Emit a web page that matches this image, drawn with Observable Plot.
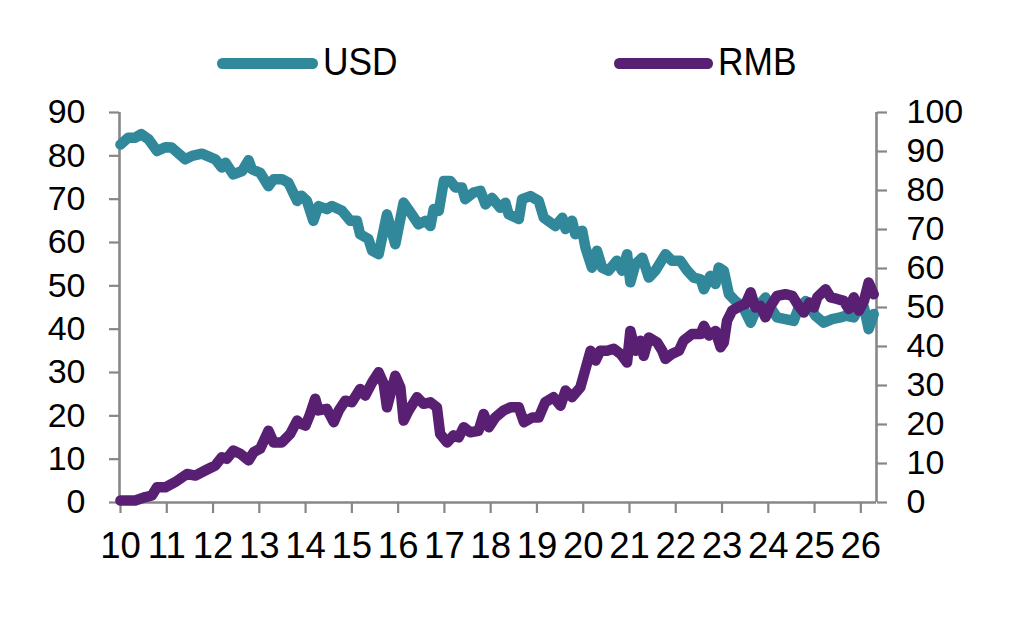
<!DOCTYPE html>
<html>
<head>
<meta charset="utf-8">
<script src="https://cdn.jsdelivr.net/npm/d3@7"></script>
<script src="https://cdn.jsdelivr.net/npm/@observablehq/plot@0.6"></script>
<style>
  html, body { margin: 0; padding: 0; background: #fff; }
  body { width: 1028px; height: 618px; overflow: hidden; font-family: "Liberation Sans", Arial, sans-serif; }
  #legend { position: relative; height: 90px; }
  .swatch { position: absolute; top: 58px; height: 10.5px; border-radius: 5.25px; }
  .lab { position: absolute; top: 40px; font-size: 38px; line-height: 44px; color: #000;
         transform: scaleX(0.93); transform-origin: 0 50%; white-space: nowrap; }
</style>
</head>
<body>
<div id="legend"></div>
<div id="chart"></div>
<script>
// ---- data ----
const seriesNames = ["USD", "RMB"];
const seriesColors = ["#32889b", "#581f73"];

const usdYears = [10.02,10.19,10.34,10.47,10.63,10.81,10.99,11.13,11.42,11.57,11.78,12.07,12.21,12.29,12.46,12.65,12.79,12.86,13.04,13.22,13.33,13.51,13.65,13.84,13.93,14.05,14.19,14.30,14.48,14.59,14.81,14.99,15.13,15.20,15.38,15.46,15.60,15.78,15.96,16.14,16.29,16.46,16.61,16.72,16.79,16.90,17.01,17.15,17.26,17.40,17.47,17.65,17.80,17.91,18.05,18.23,18.34,18.41,18.63,18.70,18.88,19.06,19.17,19.42,19.57,19.64,19.78,19.85,20.00,20.07,20.21,20.32,20.43,20.57,20.75,20.86,20.97,21.04,21.15,21.30,21.44,21.58,21.80,21.94,22.12,22.27,22.41,22.56,22.63,22.77,22.88,22.95,23.06,23.17,23.31,23.46,23.64,23.78,23.96,24.07,24.21,24.39,24.57,24.68,24.83,24.93,25.04,25.22,25.40,25.58,25.69,25.87,25.98,26.09,26.19,26.30];
const usdValues = [82.6,84.2,84.2,85.0,83.8,81.1,82.0,81.9,79.2,80.0,80.5,79.2,77.3,78.4,75.7,76.5,79.0,76.9,76.1,73.0,74.6,74.6,73.8,69.6,70.8,69.6,65.0,68.4,67.7,68.4,67.3,65.0,65.0,61.9,60.8,58.1,57.3,66.5,59.6,69.2,66.9,64.2,65.0,63.8,67.7,67.3,74.2,74.2,72.7,72.7,70.0,71.5,71.9,68.8,70.3,68.0,69.2,66.5,65.4,70.0,70.7,69.6,65.7,63.8,65.7,63.1,65.0,61.9,62.7,58.8,54.2,58.1,54.2,53.5,55.8,53.5,57.3,50.8,55.0,56.5,51.9,53.5,57.3,55.8,55.8,53.5,51.9,51.5,49.2,52.3,50.4,54.2,53.5,48.1,46.5,45.4,41.5,45.0,47.3,45.0,42.7,42.3,41.9,45.0,46.5,45.0,43.1,41.5,42.3,42.7,43.1,42.7,45.0,45.0,40.0,43.5];

const rmbYears = [10.02,10.34,10.56,10.70,10.81,10.99,11.20,11.46,11.64,11.85,12.07,12.21,12.32,12.46,12.61,12.79,12.90,13.04,13.22,13.33,13.51,13.69,13.84,13.91,14.02,14.12,14.23,14.30,14.48,14.63,14.74,14.88,15.02,15.20,15.31,15.46,15.60,15.71,15.78,15.96,16.07,16.14,16.25,16.43,16.57,16.72,16.86,16.93,17.08,17.22,17.33,17.44,17.58,17.76,17.87,17.98,18.12,18.30,18.45,18.63,18.74,18.92,19.06,19.20,19.38,19.53,19.64,19.78,19.96,20.07,20.18,20.29,20.39,20.54,20.68,20.83,20.97,21.04,21.15,21.26,21.33,21.44,21.62,21.73,21.80,21.94,22.09,22.19,22.37,22.56,22.63,22.74,22.88,22.99,23.06,23.13,23.24,23.42,23.53,23.64,23.74,23.85,23.96,24.07,24.21,24.39,24.54,24.65,24.79,24.91,25.01,25.08,25.26,25.37,25.51,25.65,25.76,25.87,25.98,26.09,26.19,26.30];
const rmbValues = [0.5,0.5,1.4,1.8,3.9,3.9,5.2,7.3,6.9,8.2,9.5,11.6,11.2,13.3,12.5,10.8,12.9,13.8,18.4,15.4,15.4,17.6,21.0,20.2,19.7,22.7,26.6,23.6,24.0,20.6,23.6,26.1,25.7,29.1,27.4,30.8,33.4,30.4,24.4,32.5,29.5,21.0,23.6,27.0,25.3,25.7,24.4,17.6,15.4,17.2,16.7,19.3,18.0,18.4,22.7,19.3,21.8,23.6,24.4,24.4,20.6,21.8,21.8,25.7,27.0,24.8,28.7,27.0,29.5,34.2,38.9,36.4,38.9,38.9,39.4,38.1,35.9,44.0,38.9,41.5,37.6,42.3,41.0,38.9,36.8,38.1,38.9,41.5,43.2,43.2,45.3,42.8,44.0,39.8,41.0,46.6,49.2,50.4,50.9,53.9,50.0,50.4,47.5,50.4,53.0,53.4,53.0,50.9,48.7,51.3,50.0,52.6,54.7,52.6,52.2,51.7,49.6,52.6,49.2,51.7,56.4,53.4];

const xTicks = [10,11,12,13,14,15,16,17,18,19,20,21,22,23,24,25,26];
const xDomain = [10, 26.36];
const leftTicks = [0,10,20,30,40,50,60,70,80,90];
const leftDomain = [0, 90];
const rightTicks = [0,10,20,30,40,50,60,70,80,90,100];
const rightMax = 100;

// ---- build ----
const k = leftDomain[1] / rightMax; // right axis -> left-scale factor
const usd = usdYears.map((x, i) => ({x, y: usdValues[i]}));
const rmb = rmbYears.map((x, i) => ({x, y: rmbValues[i] * k}));

// legend
const legend = document.getElementById("legend");
const legendPos = [{line: 217, w: 101, text: 323}, {line: 614, w: 99, text: 718}];
seriesNames.forEach((name, i) => {
  const sw = document.createElement("div");
  sw.className = "swatch";
  sw.style.left = legendPos[i].line + "px";
  sw.style.width = legendPos[i].w + "px";
  sw.style.background = seriesColors[i];
  legend.appendChild(sw);
  const t = document.createElement("div");
  t.className = "lab";
  t.style.left = legendPos[i].text + "px";
  t.textContent = name;
  legend.appendChild(t);
});

const axisGray = "#878787";
const chart = Plot.plot({
  width: 1028,
  height: 528,
  marginTop: 22,
  marginBottom: 116,
  marginLeft: 119,
  marginRight: 152,
  style: {fontFamily: "'Liberation Sans', Arial, sans-serif", background: "white", overflow: "visible"},
  x: {domain: xDomain},
  y: {domain: leftDomain},
  marks: [
    Plot.axisY(leftTicks, {anchor: "left", tickSize: 10, tickPadding: 24, fontSize: 34, stroke: axisGray, strokeWidth: 2.2, fill: "#000", label: null}),
    Plot.axisY(rightTicks.map(v => v * k), {anchor: "right", tickSize: 10, tickPadding: 20, fontSize: 34, stroke: axisGray, strokeWidth: 2.2, fill: "#000", label: null, tickFormat: d => String(Math.round(d / k))}),
    Plot.axisX(xTicks, {anchor: "bottom", tickSize: 11, tickPadding: 19, fontSize: 36.5, dx: 1, stroke: axisGray, strokeWidth: 2.2, fill: "#000", label: null, tickFormat: d => String(d)}),
    Plot.ruleX([xDomain[0]], {stroke: axisGray, strokeWidth: 2.6}),
    Plot.ruleX([xDomain[1]], {stroke: axisGray, strokeWidth: 2.6}),
    Plot.ruleY([leftDomain[0]], {stroke: axisGray, strokeWidth: 2.6}),
    Plot.line(usd, {x: "x", y: "y", stroke: seriesColors[0], strokeWidth: 10.5, strokeLinejoin: "round", strokeLinecap: "round"}),
    Plot.line(rmb, {x: "x", y: "y", stroke: seriesColors[1], strokeWidth: 10.5, strokeLinejoin: "round", strokeLinecap: "round"})
  ]
});
document.getElementById("chart").appendChild(chart);
</script>
</body>
</html>
